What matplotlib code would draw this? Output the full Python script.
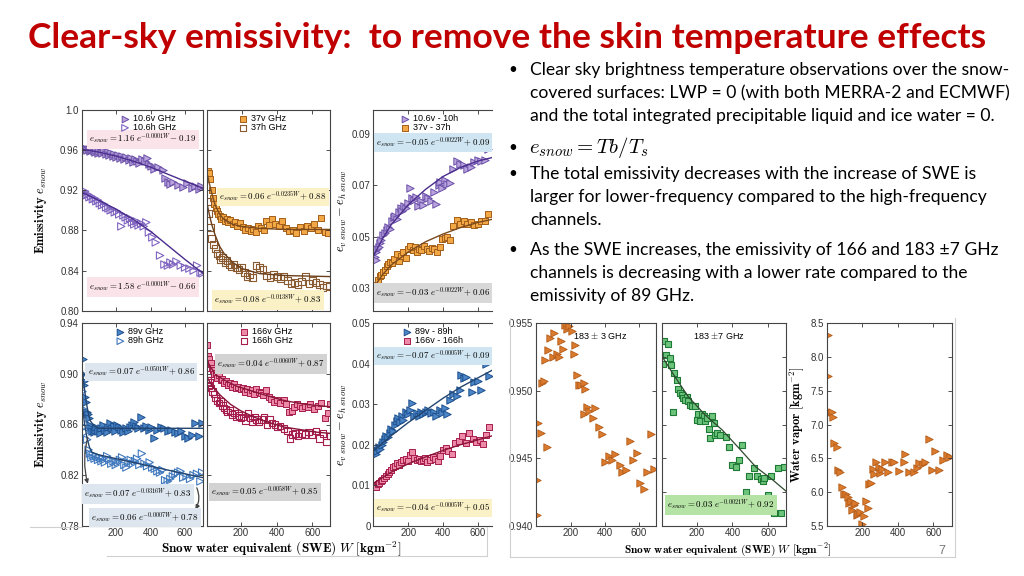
import numpy as np
import matplotlib
matplotlib.use("Agg")
import matplotlib.pyplot as plt
from matplotlib.lines import Line2D

plt.rcParams['mathtext.fontset'] = 'cm'
plt.rcParams['font.family'] = ['Liberation Sans', 'DejaVu Sans']

# ---------------- data ----------------
# panel 1: 10.6 GHz emissivity
w_106v = [10, 18, 25, 32, 40, 48, 55, 62, 70, 78, 85, 92, 100, 110, 120, 130, 140, 150, 160, 170, 180, 190,
          200, 212, 224, 236, 248, 260, 272, 285, 298, 310, 322, 335, 350, 365, 378, 392, 405, 420, 440, 470,
          485, 500, 515, 530, 560, 590, 610, 640, 660, 680, 695]
e_106v = [0.961, 0.962, 0.961, 0.960, 0.961, 0.959, 0.960, 0.961, 0.959, 0.958, 0.960, 0.957, 0.959, 0.958,
          0.957, 0.959, 0.956, 0.958, 0.955, 0.957, 0.954, 0.956, 0.953, 0.955, 0.952, 0.954, 0.951, 0.953,
          0.950, 0.952, 0.948, 0.951, 0.949, 0.947, 0.951, 0.949, 0.952, 0.946, 0.944, 0.941, 0.943, 0.940,
          0.932, 0.928, 0.926, 0.928, 0.925, 0.923, 0.927, 0.922, 0.924, 0.921, 0.924]
w_106h = [5, 12, 20, 28, 35, 45, 55, 65, 75, 85, 95, 105, 118, 130, 142, 155, 168, 180, 192, 205, 218, 230,
          242, 255, 268, 280, 292, 305, 318, 330, 345, 360, 375, 390, 410, 430, 455, 480, 500, 515, 530, 550,
          575, 600, 625, 650, 670, 690, 700]
e_106h = [0.918, 0.917, 0.919, 0.915, 0.916, 0.913, 0.914, 0.911, 0.912, 0.909, 0.910, 0.907, 0.905, 0.906,
          0.903, 0.902, 0.900, 0.901, 0.898, 0.899, 0.896, 0.884, 0.895, 0.893, 0.890, 0.892, 0.888, 0.886,
          0.889, 0.885, 0.887, 0.884, 0.888, 0.878, 0.873, 0.868, 0.855, 0.846, 0.845, 0.848, 0.846, 0.849,
          0.845, 0.843, 0.842, 0.840, 0.845, 0.838, 0.837]
fit_w_106 = [0, 100, 200, 300, 400, 500, 600, 705]
fit_106v = [0.961, 0.958, 0.954, 0.949, 0.943, 0.936, 0.929, 0.922]
fit_106h = [0.918, 0.910, 0.901, 0.891, 0.879, 0.865, 0.851, 0.837]

# panel 2: 37 GHz emissivity
w_37v = [8, 14, 22, 30, 38, 45, 52, 60, 68, 76, 85, 95, 105, 115, 125, 135, 148, 160, 175, 190, 205, 220,
         235, 250, 265, 280, 295, 310, 325, 340, 355, 370, 390, 410, 430, 450, 470, 490, 510, 530, 550, 570,
         590, 610, 630, 650, 670, 690]
e_37v = [0.939, 0.937, 0.931, 0.920, 0.912, 0.906, 0.902, 0.899, 0.896, 0.894, 0.891, 0.893, 0.889, 0.891,
         0.888, 0.890, 0.886, 0.888, 0.884, 0.887, 0.883, 0.880, 0.882, 0.879, 0.881, 0.878, 0.884, 0.882,
         0.880, 0.889, 0.885, 0.891, 0.886, 0.884, 0.889, 0.882, 0.879, 0.880, 0.877, 0.883, 0.879, 0.884,
         0.882, 0.886, 0.880, 0.892, 0.878, 0.877]
w_37h = [6, 14, 22, 30, 40, 50, 60, 70, 80, 92, 104, 116, 128, 140, 155, 170, 185, 200, 215, 230, 245, 260,
         280, 300, 320, 340, 360, 380, 400, 420, 440, 460, 480, 500, 520, 540, 560, 580, 600, 620, 640, 660,
         680, 695]
e_37h = [0.909, 0.897, 0.883, 0.872, 0.866, 0.862, 0.857, 0.855, 0.851, 0.853, 0.848, 0.850, 0.846, 0.844,
         0.846, 0.843, 0.841, 0.843, 0.838, 0.834, 0.836, 0.833, 0.845, 0.843, 0.841, 0.835, 0.833, 0.836,
         0.834, 0.832, 0.834, 0.830, 0.827, 0.828, 0.826, 0.829, 0.834, 0.827, 0.830, 0.828, 0.826, 0.823,
         0.825, 0.824]
fit_w_37 = [0, 15, 30, 50, 75, 100, 150, 200, 300, 450, 700]
fit_37v = [0.940, 0.928, 0.917, 0.905, 0.896, 0.891, 0.886, 0.884, 0.882, 0.881, 0.881]
fit_37h = [0.910, 0.897, 0.886, 0.875, 0.864, 0.857, 0.848, 0.842, 0.837, 0.835, 0.834]

# panel 3: polarisation difference 10.6 and 37 GHz
w_d106 = [5, 8, 12, 15, 20, 28, 35, 45, 55, 65, 75, 85, 95, 105, 115, 125, 135, 145, 155, 165, 175, 185,
          200, 212, 222, 232, 245, 258, 270, 285, 300, 315, 330, 345, 360, 375, 385, 395, 410, 425, 440, 460,
          480, 500, 520, 540, 560, 580, 600, 620, 640, 660]
d_106 = [0.0445, 0.0420, 0.0408, 0.0438, 0.0452, 0.0460, 0.0475, 0.0486, 0.0505, 0.0512, 0.0525, 0.0538,
         0.0530, 0.0560, 0.0575, 0.0582, 0.0568, 0.0595, 0.0610, 0.0600, 0.0620, 0.0612, 0.0630, 0.0688,
         0.0650, 0.0642, 0.0655, 0.0620, 0.0640, 0.0625, 0.0660, 0.0650, 0.0640, 0.0675, 0.0628, 0.0700,
         0.0712, 0.0690, 0.0720, 0.0705, 0.0710, 0.0765, 0.0795, 0.0785, 0.0780, 0.0765, 0.0772, 0.0790,
         0.0800, 0.0795, 0.0800, 0.0842]
w_d37 = [4, 10, 18, 26, 35, 45, 55, 65, 75, 85, 95, 108, 120, 132, 145, 158, 170, 185, 200, 212, 225, 238,
         250, 262, 275, 290, 305, 320, 335, 350, 365, 380, 395, 410, 425, 440, 460, 480, 500, 520, 540, 560,
         580, 600, 620, 640, 660]
d_37 = [0.0300, 0.0296, 0.0310, 0.0330, 0.0345, 0.0350, 0.0362, 0.0370, 0.0385, 0.0392, 0.0400, 0.0398,
        0.0412, 0.0430, 0.0405, 0.0425, 0.0440, 0.0418, 0.0452, 0.0462, 0.0446, 0.0458, 0.0440, 0.0450,
        0.0448, 0.0462, 0.0452, 0.0445, 0.0455, 0.0450, 0.0440, 0.0458, 0.0490, 0.0495, 0.0500, 0.0485,
        0.0540, 0.0565, 0.0550, 0.0560, 0.0548, 0.0555, 0.0545, 0.0550, 0.0560, 0.0562, 0.0590]
fit_w_d = [0, 50, 100, 200, 300, 400, 500, 600, 700]
fit_d106 = [0.0425, 0.049, 0.0545, 0.0625, 0.0685, 0.0735, 0.077, 0.0795, 0.0812]
fit_d37 = [0.030, 0.035, 0.0388, 0.044, 0.048, 0.051, 0.0535, 0.0555, 0.057]

# panel 4: 89 GHz emissivity
w_89v = [5, 8, 12, 15, 20, 25, 30, 36, 42, 48, 55, 62, 70, 78, 86, 95, 105, 115, 125, 135, 145, 155, 165,
         175, 185, 195, 205, 218, 230, 242, 255, 268, 280, 292, 305, 318, 330, 345, 360, 375, 390, 405, 420,
         440, 460, 480, 500, 520, 540, 560, 580, 600, 620, 640, 660, 680, 700]
e_89v = [0.912, 0.900, 0.894, 0.891, 0.882, 0.878, 0.870, 0.868, 0.865, 0.860, 0.857, 0.855, 0.854, 0.856,
         0.858, 0.855, 0.853, 0.857, 0.860, 0.856, 0.854, 0.858, 0.861, 0.857, 0.859, 0.855, 0.860, 0.858,
         0.856, 0.854, 0.857, 0.855, 0.858, 0.860, 0.862, 0.859, 0.857, 0.866, 0.857, 0.859, 0.856, 0.858,
         0.849, 0.856, 0.858, 0.857, 0.855, 0.856, 0.854, 0.853, 0.855, 0.851, 0.849, 0.852, 0.861, 0.851,
         0.861]
w_89h = [5, 8, 12, 18, 25, 32, 40, 48, 56, 65, 75, 85, 95, 105, 115, 125, 135, 148, 160, 172, 185, 198,
         210, 222, 235, 248, 260, 272, 285, 298, 310, 322, 335, 350, 365, 380, 395, 410, 425, 440, 455, 470,
         485, 500, 515, 530, 545, 560, 575, 590, 610, 630, 650, 670, 690, 700]
e_89h = [0.886, 0.878, 0.872, 0.858, 0.854, 0.848, 0.840, 0.837, 0.834, 0.836, 0.833, 0.835, 0.832, 0.834,
         0.831, 0.833, 0.830, 0.835, 0.832, 0.829, 0.831, 0.828, 0.830, 0.832, 0.834, 0.828, 0.826, 0.830,
         0.832, 0.829, 0.831, 0.833, 0.828, 0.837, 0.829, 0.827, 0.830, 0.826, 0.825, 0.823, 0.822, 0.824,
         0.816, 0.815, 0.817, 0.819, 0.821, 0.822, 0.823, 0.818, 0.819, 0.817, 0.820, 0.821, 0.815, 0.822]
fit_w_89v = [0, 10, 20, 30, 40, 50, 70, 100, 200, 400, 705]
fit_89v = [0.908, 0.895, 0.884, 0.875, 0.868, 0.863, 0.859, 0.857, 0.857, 0.857, 0.857]
fit_w_89h = [0, 15, 30, 45, 60, 100, 200, 400, 600, 705]
fit_89h = [0.880, 0.862, 0.850, 0.842, 0.838, 0.836, 0.833, 0.827, 0.821, 0.818]

# panel 5: 166 GHz emissivity
w_166v = [10, 13, 18, 22, 28, 35, 42, 50, 58, 66, 75, 85, 95, 105, 115, 125, 135, 148, 160, 172, 185, 198,
          210, 222, 235, 248, 260, 272, 285, 298, 310, 325, 340, 355, 370, 385, 400, 420, 440, 455, 470, 485,
          500, 515, 530, 545, 560, 575, 590, 610, 630, 650, 670, 690, 700]
e_166v = [0.923, 0.914, 0.912, 0.908, 0.909, 0.905, 0.903, 0.900, 0.901, 0.897, 0.899, 0.895, 0.896, 0.893,
          0.894, 0.891, 0.893, 0.890, 0.892, 0.889, 0.890, 0.888, 0.889, 0.886, 0.888, 0.885, 0.887, 0.884,
          0.888, 0.886, 0.885, 0.883, 0.887, 0.882, 0.880, 0.878, 0.879, 0.877, 0.879, 0.876, 0.870, 0.871,
          0.874, 0.876, 0.875, 0.873, 0.875, 0.874, 0.876, 0.872, 0.875, 0.877, 0.865, 0.869, 0.876]
w_166h = [10, 14, 20, 26, 32, 40, 48, 56, 65, 75, 85, 95, 105, 115, 125, 138, 150, 162, 175, 188, 200, 212,
          225, 238, 250, 262, 275, 288, 300, 315, 330, 345, 360, 375, 390, 405, 420, 440, 460, 475, 490, 505,
          520, 540, 560, 580, 600, 620, 640, 660, 680, 700]
e_166h = [0.900, 0.895, 0.891, 0.893, 0.889, 0.886, 0.884, 0.881, 0.879, 0.877, 0.878, 0.875, 0.873, 0.872,
          0.870, 0.871, 0.868, 0.869, 0.866, 0.867, 0.865, 0.866, 0.863, 0.869, 0.865, 0.862, 0.866, 0.864,
          0.862, 0.864, 0.866, 0.860, 0.864, 0.861, 0.860, 0.858, 0.859, 0.857, 0.855, 0.849, 0.852, 0.853,
          0.851, 0.853, 0.852, 0.854, 0.852, 0.855, 0.849, 0.853, 0.846, 0.851]
fit_w_166v = [10, 30, 60, 120, 180, 250, 340, 440, 560, 700]
fit_166v = [0.910, 0.905, 0.899, 0.894, 0.890, 0.887, 0.883, 0.879, 0.876, 0.874]
fit_w_166h = [10, 40, 84, 140, 196, 270, 346, 440, 533, 620, 700]
fit_166h = [0.897, 0.890, 0.883, 0.876, 0.871, 0.866, 0.862, 0.858, 0.856, 0.854, 0.853]

# panel 6: polarisation difference 89 and 166 GHz
w_d89 = [5, 10, 15, 22, 30, 38, 46, 55, 64, 73, 82, 92, 102, 112, 122, 132, 142, 152, 162, 172, 185, 198,
         210, 222, 235, 248, 260, 272, 285, 300, 315, 330, 345, 360, 380, 395, 410, 425, 440, 460, 480, 500,
         505, 520, 535, 565, 580, 600, 620, 650, 665]
d_89 = [0.0190, 0.0182, 0.0178, 0.0185, 0.0195, 0.0190, 0.0200, 0.0208, 0.0215, 0.0222, 0.0220, 0.0230,
        0.0240, 0.0235, 0.0250, 0.0258, 0.0265, 0.0255, 0.0270, 0.0262, 0.0280, 0.0275, 0.0285, 0.0303,
        0.0272, 0.0278, 0.0272, 0.0280, 0.0275, 0.0280, 0.0285, 0.0278, 0.0282, 0.0272, 0.0285, 0.0278,
        0.0290, 0.0275, 0.0310, 0.0325, 0.0320, 0.0335, 0.0372, 0.0365, 0.0368, 0.0330, 0.0355, 0.0358,
        0.0335, 0.0400, 0.0370]
w_d166 = [5, 10, 16, 24, 32, 40, 50, 60, 70, 80, 90, 100, 112, 124, 136, 148, 160, 172, 185, 198, 210, 222,
          235, 248, 260, 272, 285, 298, 310, 325, 340, 355, 370, 385, 400, 415, 430, 450, 470, 490, 510, 530,
          550, 570, 590, 610, 630, 650, 665]
d_166 = [0.0100, 0.0097, 0.0095, 0.0102, 0.0105, 0.0110, 0.0112, 0.0118, 0.0122, 0.0128, 0.0132, 0.0138,
         0.0145, 0.0148, 0.0155, 0.0150, 0.0158, 0.0162, 0.0165, 0.0160, 0.0175, 0.0182, 0.0168, 0.0162,
         0.0165, 0.0160, 0.0163, 0.0168, 0.0158, 0.0162, 0.0170, 0.0165, 0.0160, 0.0172, 0.0188, 0.0192,
         0.0185, 0.0178, 0.0205, 0.0210, 0.0222, 0.0205, 0.0228, 0.0215, 0.0208, 0.0212, 0.0202, 0.0225,
         0.0245]
fit_w_d2 = [0, 100, 200, 300, 400, 500, 600, 700]
fit_d89 = [0.0185, 0.0222, 0.0255, 0.0285, 0.0315, 0.0342, 0.0365, 0.0388]
fit_d166 = [0.0105, 0.0132, 0.0153, 0.0170, 0.0186, 0.0200, 0.0212, 0.0224]

# panel 7: 183 +- 3 GHz
w_183_3 = [3, 3, 9, 23, 29, 42, 58, 48, 78, 68, 103, 92, 117, 131, 143, 153, 163, 176, 190, 206, 216, 226,
           235, 245, 261, 275, 285, 295, 275, 308, 328, 344, 364, 383, 403, 423, 442, 462, 486, 501, 525, 545,
           564, 586, 606, 629, 649, 669, 689]
e_183_3 = [0.9408, 0.9434, 0.9476, 0.9469, 0.9506, 0.9507, 0.9458, 0.9523, 0.9539, 0.9530, 0.9543, 0.9525,
           0.9527, 0.9525, 0.9537, 0.9531, 0.9549, 0.9546, 0.9548, 0.9544, 0.9527, 0.9534, 0.9512, 0.9504,
           0.9504, 0.9506, 0.9501, 0.9488, 0.9483, 0.9485, 0.9480, 0.9487, 0.9473, 0.9468, 0.9447, 0.9452,
           0.9449, 0.9453, 0.9445, 0.9440, 0.9441, 0.9463, 0.9449, 0.9454, 0.9432, 0.9427, 0.9440, 0.9468,
           0.9442]

# panel 8: 183 +- 7 GHz
w_183_7 = [17, 39, 11, 30, 49, 58, 73, 87, 96, 106, 115, 124, 143, 134, 153, 162, 172, 191, 68, 209, 228,
           238, 200, 219, 247, 257, 285, 295, 266, 276, 304, 313, 332, 361, 380, 455, 398, 417, 436, 493, 474,
           521, 540, 559, 569, 578, 597, 616, 635, 654, 673, 691]
e_183_7 = [0.9524, 0.9519, 0.9489, 0.9503, 0.9499, 0.9488, 0.9477, 0.9466, 0.9453, 0.9446, 0.9443, 0.9440,
           0.9441, 0.9436, 0.9435, 0.9429, 0.9428, 0.9428, 0.9418, 0.9415, 0.9415, 0.9413, 0.9406, 0.9405,
           0.9405, 0.9409, 0.9413, 0.9402, 0.9394, 0.9380, 0.9384, 0.9387, 0.9385, 0.9382, 0.9367, 0.9369,
           0.9340, 0.9337, 0.9347, 0.9323, 0.9300, 0.9336, 0.9323, 0.9319, 0.9316, 0.9321, 0.9295, 0.9324,
           0.9269, 0.9335, 0.9269, 0.9337]
fit_w_183 = [5, 77, 153, 247, 342, 436, 531, 625, 701]
fit_183 = [0.9501, 0.9471, 0.9441, 0.9414, 0.9392, 0.9365, 0.9337, 0.9318, 0.9301]

# panel 9: water vapour
w_wv = [7, 7, 17, 26, 35, 41, 54, 64, 73, 83, 98, 106, 117, 124, 136, 140, 153, 158, 168, 177, 187, 200,
        206, 221, 230, 238, 249, 257, 268, 277, 291, 300, 310, 325, 344, 366, 381, 404, 432, 442, 465, 489,
        508, 518, 540, 552, 574, 593, 612, 635, 654, 678, 697]
wv = [8.32, 7.72, 7.19, 7.18, 7.11, 6.72, 6.66, 6.32, 6.30, 6.07, 5.97, 5.97, 5.92, 5.84, 5.86, 5.74, 5.80,
      5.83, 5.66, 5.67, 5.71, 5.52, 5.64, 5.86, 5.76, 6.12, 6.13, 6.34, 6.26, 6.45, 6.37, 6.28, 6.34, 6.45,
      6.30, 6.45, 6.45, 6.31, 6.45, 6.57, 6.30, 6.30, 6.35, 6.43, 6.42, 6.45, 6.78, 6.33, 6.60, 6.33, 6.47,
      6.55, 6.52]

bullets = [
    ["Clear sky brightness temperature observations over the snow-",
     "covered surfaces: LWP = 0 (with both MERRA-2 and ECMWF)",
     "and the total integrated precipitable liquid and ice water = 0."],
    [r"$e_{snow} = Tb/T_s$"],
    ["The total emissivity decreases with the increase of SWE is",
     "larger for lower-frequency compared to the high-frequency",
     "channels."],
    ["As the SWE increases, the emissivity of 166 and 183 \u00b17 GHz",
     "channels is decreasing with a lower rate compared to the",
     "emissivity of 89 GHz."],
]
bullet_y = [[70, 93, 116], [148], [174, 197, 220], [250, 273, 296]]

# ---------------- drawing ----------------
FW, FH = 1024, 576
fig = plt.figure(figsize=(FW / 100, FH / 100), dpi=100)


def rect(x0, y0, x1, y1):
    return [x0 / FW, 1 - y1 / FH, (x1 - x0) / FW, (y1 - y0) / FH]


def style(ax, xlim, ylim, yticks, ylabels=None, xlabels=True, right=True):
    ax.set_xlim(*xlim)
    ax.set_ylim(*ylim)
    ax.set_xticks([200, 400, 600])
    ax.set_yticks(yticks)
    if xlabels:
        ax.set_xticklabels(['200', '400', '600'])
    else:
        ax.set_xticklabels([])
    if ylabels is None:
        ax.set_yticklabels([])
    else:
        ax.set_yticklabels(ylabels)
    ax.tick_params(direction='in', top=True, right=right, length=3, width=0.6,
                   labelsize=7, pad=2, colors='#333333')
    for s in ax.spines.values():
        s.set_linewidth(0.8)
        s.set_color('#444444')
    if not right:
        ax.spines['right'].set_visible(False)


def eqbox(ax, x, y, txt, color):
    ax.text(x, y, txt, transform=ax.transAxes, ha='center', va='center', fontsize=6.4,
            bbox=dict(boxstyle='square,pad=0.25', fc=color, ec='none'), zorder=5)


def leg(ax, x):
    ax.legend(loc='upper center', bbox_to_anchor=(x, 0.99), frameon=False, fontsize=6.5,
              handletextpad=0.4, labelspacing=0.0, borderpad=0.0, borderaxespad=0.2,
              handlelength=1.0, handleheight=0.5, markerscale=0.9)


PUR_F, PUR_E, PUR_L = '#B9A4DD', '#6A4FA8', '#4A2D8C'
ORA_F, ORA_E, BRN = '#F3A846', '#A35F1A', '#7A4A1E'
BLU_F, BLU_E, BLU_L = '#4C86C6', '#1D4F8F', '#23456F'
PNK_F, PNK_E, PNK_L = '#EC8AA8', '#A61E4D', '#8A1538'
TRI_F, TRI_E = '#DA7A2C', '#B35B18'
GRN_F, GRN_E, GRN_L = '#6CC47C', '#1F7A35', '#2E4A2E'
MS = 28
MSQ = 22

ylab_e = r'$\mathbf{Emissivity}\ e_{snow}$'
ylab_d = r'$e_{v\ snow} - e_{h\ snow}$'

# panel 1
ax = fig.add_axes(rect(81.7, 110, 203, 310.7))
ax.plot(fit_w_106, fit_106v, color=PUR_L, lw=1)
ax.plot(fit_w_106, fit_106h, color=PUR_L, lw=1)
ax.scatter(w_106v, e_106v, marker='>', s=MS, fc=PUR_F, ec=PUR_E, lw=0.7, label='10.6v GHz')
ax.scatter(w_106h, e_106h, marker='>', s=MS, fc='none', ec='#7F63C0', lw=0.8, label='10.6h GHz')
style(ax, (0, 704), (0.80, 1.0), [0.80, 0.84, 0.88, 0.92, 0.96, 1.0],
      ['0.80', '0.84', '0.88', '0.92', '0.96', '1.0'], xlabels=False)
leg(ax, 0.55)
eqbox(ax, 0.505, 0.855, r'$e_{snow} = \mathbf{1.16}\ e^{-0.0001W} \mathbf{-\ 0.19}$', '#FBE3EA')
eqbox(ax, 0.505, 0.118, r'$e_{snow} = \mathbf{1.58}\ e^{-0.0001W} \mathbf{-\ 0.66}$', '#FBE3EA')
ax.set_ylabel(ylab_e, fontsize=9)
ax.yaxis.set_label_coords(-0.27, 0.5)

# panel 2
ax = fig.add_axes(rect(207.3, 110, 330, 310.7))
ax.plot(fit_w_37, fit_37v, color=BRN, lw=1)
ax.plot(fit_w_37, fit_37h, color='#6B3F1A', lw=1)
ax.scatter(w_37v, e_37v, marker='s', s=MSQ, fc=ORA_F, ec=ORA_E, lw=0.7, label='37v GHz')
ax.scatter(w_37h, e_37h, marker='s', s=MSQ, fc='none', ec='#8A5A30', lw=0.8, label='37h GHz')
style(ax, (5, 700), (0.80, 1.0), [0.84, 0.88, 0.92, 0.96], xlabels=False)
leg(ax, 0.45)
eqbox(ax, 0.535, 0.567, r'$e_{snow} = \mathbf{0.06}\ e^{-0.0235W} \mathbf{+\ 0.88}$', '#FBF1C7')
eqbox(ax, 0.495, 0.053, r'$e_{snow} = \mathbf{0.08}\ e^{-0.0138W} \mathbf{+\ 0.83}$', '#FBF1C7')

# panel 3
ax = fig.add_axes(rect(373.3, 110, 492, 310.7))
ax.plot(fit_w_d, fit_d106, color=PUR_L, lw=1)
ax.plot(fit_w_d, fit_d37, color=BRN, lw=1)
ax.scatter(w_d106, d_106, marker='>', s=MS, fc=PUR_F, ec=PUR_E, lw=0.7, label='10.6v - 10h')
ax.scatter(w_d37, d_37, marker='s', s=MSQ, fc=ORA_F, ec=ORA_E, lw=0.7, label='37v - 37h')
style(ax, (-2, 682), (0.021, 0.0995), [0.03, 0.05, 0.07, 0.09],
      ['0.03', '0.05', '0.07', '0.09'], xlabels=False, right=False)
leg(ax, 0.47)
eqbox(ax, 0.503, 0.836, r'$e_{snow} = \mathbf{-0.05}\ e^{-0.0022W} \mathbf{+\ 0.09}$', '#CFE6F2')
eqbox(ax, 0.503, 0.088, r'$e_{snow} = \mathbf{-0.03}\ e^{-0.0022W} \mathbf{+\ 0.06}$', '#D8D8D8')
ax.set_ylabel(ylab_d, fontsize=9)
ax.yaxis.set_label_coords(-0.205, 0.5)

# panel 4
ax = fig.add_axes(rect(81.7, 323.3, 203, 525.7))
ax.plot(fit_w_89v, fit_89v, color=BLU_L, lw=1)
ax.plot(fit_w_89h, fit_89h, color=BLU_L, lw=1)
ax.scatter(w_89v, e_89v, marker='>', s=MS, fc=BLU_F, ec=BLU_E, lw=0.7, label='89v GHz')
ax.scatter(w_89h, e_89h, marker='>', s=MS, fc='none', ec='#3F78BE', lw=0.8, label='89h GHz')
style(ax, (0, 705), (0.78, 0.94), [0.78, 0.82, 0.86, 0.90, 0.94],
      ['0.78', '0.82', '0.86', '0.90', '0.94'])
leg(ax, 0.48)
eqbox(ax, 0.49, 0.759, r'$e_{snow} = \mathbf{0.07}\ e^{-0.0501W} \mathbf{+\ 0.86}$', '#DDE6EE')
eqbox(ax, 0.464, 0.157, r'$e_{snow} = \mathbf{0.07}\ e^{-0.0316W} \mathbf{+\ 0.83}$', '#DDE6EE')
eqbox(ax, 0.52, 0.039, r'$e_{snow} = \mathbf{0.06}\ e^{-0.0007W} \mathbf{+\ 0.78}$', '#DDE6EE')
ax.annotate('', xy=(40, 0.811), xytext=(40, 0.852),
            arrowprops=dict(arrowstyle='-|>', color='#444444', lw=0.9, mutation_scale=6,
                            connectionstyle='arc3,rad=0.15'))
ax.annotate('', xy=(652, 0.791), xytext=(662, 0.812),
            arrowprops=dict(arrowstyle='-|>', color='#444444', lw=0.9, mutation_scale=6,
                            connectionstyle='arc3,rad=-0.3'))
ax.set_ylabel(ylab_e, fontsize=9)
ax.yaxis.set_label_coords(-0.27, 0.5)

# panel 5
ax = fig.add_axes(rect(207.3, 323.3, 330, 525.7))
ax.plot(fit_w_166v, fit_166v, color=PNK_L, lw=1)
ax.plot(fit_w_166h, fit_166h, color=PNK_L, lw=1)
ax.scatter(w_166v, e_166v, marker='s', s=MSQ, fc=PNK_F, ec=PNK_E, lw=0.7, label='166v GHz')
ax.scatter(w_166h, e_166h, marker='s', s=MSQ, fc='none', ec=PNK_E, lw=0.8, label='166h GHz')
style(ax, (10, 700), (0.78, 0.94), [0.82, 0.86, 0.90])
leg(ax, 0.48)
eqbox(ax, 0.52, 0.799, r'$e_{snow} = \mathbf{0.04}\ e^{-0.0060W} \mathbf{+\ 0.87}$', '#D3D3D3')
eqbox(ax, 0.47, 0.166, r'$e_{snow} = \mathbf{0.05}\ e^{-0.0058W} \mathbf{+\ 0.85}$', '#D3D3D3')

# panel 6
ax = fig.add_axes(rect(373.3, 323.3, 492, 525.7))
ax.plot(fit_w_d2, fit_d89, color=BLU_L, lw=1)
ax.plot(fit_w_d2, fit_d166, color=PNK_L, lw=1)
ax.scatter(w_d89, d_89, marker='>', s=MS, fc=BLU_F, ec=BLU_E, lw=0.7, label='89v - 89h')
ax.scatter(w_d166, d_166, marker='s', s=MSQ, fc=PNK_F, ec=PNK_E, lw=0.7, label='166v - 166h')
style(ax, (-2, 682), (0, 0.05), [0, 0.01, 0.02, 0.03, 0.04, 0.05],
      ['0', '0.01', '0.02', '0.03', '0.04', '0.05'], right=False)
leg(ax, 0.5)
eqbox(ax, 0.503, 0.838, r'$e_{snow} = \mathbf{-0.07}\ e^{-0.0005W} \mathbf{+\ 0.09}$', '#CFE6F2')
eqbox(ax, 0.503, 0.087, r'$e_{snow} = \mathbf{-0.04}\ e^{-0.0005W} \mathbf{+\ 0.05}$', '#FBF1C7')
ax.set_ylabel(ylab_d, fontsize=9)
ax.yaxis.set_label_coords(-0.205, 0.5)

# panel 7
ax = fig.add_axes(rect(536, 323.3, 656, 525.7))
ax.scatter(w_183_3, e_183_3, marker='>', s=MS, fc=TRI_F, ec=TRI_E, lw=0.6)
style(ax, (-5, 700), (0.940, 0.955), [0.940, 0.945, 0.950, 0.955],
      ['0.940', '0.945', '0.950', '0.955'])
ax.text(0.53, 0.965, '183 $\\pm$ 3 GHz', transform=ax.transAxes, ha='center', va='top', fontsize=6.5)

# panel 8
ax = fig.add_axes(rect(662, 323.3, 786, 525.7))
ax.plot(fit_w_183, fit_183, color=GRN_L, lw=0.9)
ax.scatter(w_183_7, e_183_7, marker='s', s=MSQ, fc=GRN_F, ec=GRN_E, lw=0.8)
style(ax, (5, 700), (0.925, 0.955), [0.930, 0.935, 0.940, 0.945, 0.950])
ax.text(0.46, 0.965, '183 $\\pm$7 GHz', transform=ax.transAxes, ha='center', va='top', fontsize=6.5)
eqbox(ax, 0.476, 0.102, r'$e_{snow} = \mathbf{0.03}\ e^{-0.0021W} \mathbf{+\ 0.92}$', '#B5E3A5')

# panel 9
ax = fig.add_axes(rect(826.7, 323.3, 952, 525.7))
ax.scatter(w_wv, wv, marker='>', s=MS, fc=TRI_F, ec=TRI_E, lw=0.6)
style(ax, (-2, 706), (5.5, 8.5), [5.5, 6.0, 6.5, 7.0, 7.5, 8.0, 8.5],
      ['5.5', '6.0', '6.5', '7.0', '7.5', '8.0', '8.5'])
ax.set_ylabel(r'$\mathbf{Water\ vapor\ [kgm^{-2}]}$', fontsize=9)
ax.yaxis.set_label_coords(-0.165, 0.5)

# shared x labels
xl = r'$\mathbf{Snow\ water\ equivalent\ (SWE)}\ W\ \mathbf{[kgm^{-2}]}$'
fig.text(281 / FW, 1 - 549 / FH, xl, ha='center', va='center', fontsize=9.5)
fig.text(728 / FW, 1 - 550 / FH, xl, ha='center', va='center', fontsize=8.2)

# thin frame lines of the pasted images
for (x0, y0, x1, y1) in [(30, 527, 82, 527), (107, 556, 487, 556), (487, 527, 487, 556),
                         (510, 318, 510, 557), (510, 557, 955, 557), (955, 318, 955, 557)]:
    fig.add_artist(Line2D([x0 / FW, x1 / FW], [1 - y0 / FH, 1 - y1 / FH], color='#D0D0D0', lw=0.8))

# title
fig.text(28 / FW, 1 - 38 / FH, 'Clear-sky emissivity:  to remove the skin temperature effects',
         ha='left', va='center', fontsize=25.5, fontweight='bold', color='#C00000', family='Lato')

# bullet text
for lines, ys in zip(bullets, bullet_y):
    fig.text(508 / FW, 1 - ys[0] / FH, '\u2022', ha='left', va='center', fontsize=11, family='Lato')
    for line, y in zip(lines, ys):
        if line.startswith('$'):
            fig.text(529 / FW, 1 - y / FH, line, ha='left', va='center', fontsize=15)
        else:
            fig.text(530 / FW, 1 - y / FH, line, ha='left', va='center', fontsize=12.6, family='Lato')

fig.text(942 / FW, 1 - 551 / FH, '7', ha='center', va='center', fontsize=9, color='#777777')

fig.savefig('out.png', dpi=100)
